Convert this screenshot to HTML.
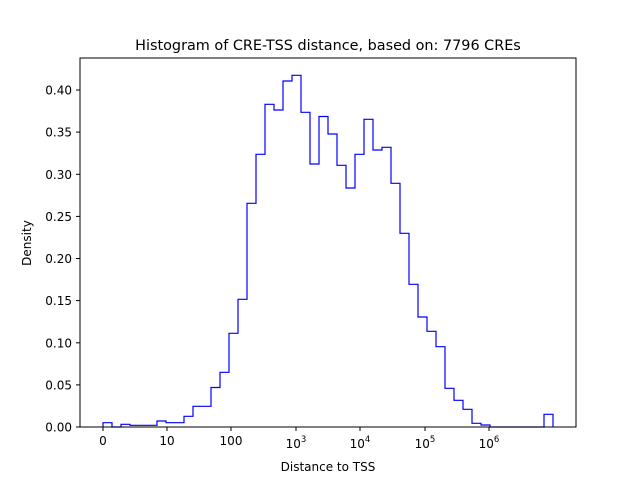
<!DOCTYPE html>
<html><head><meta charset="utf-8"><style>body{margin:0;background:#fff}svg{display:block}text{font-family:"DejaVu Sans","Liberation Sans",sans-serif;fill:#000}</style></head>
<body>
<svg width="640" height="480" viewBox="0 0 640 480" xmlns="http://www.w3.org/2000/svg">
<rect width="640" height="480" fill="#fff"/>
<path fill="none" stroke="#0000ff" stroke-width="1.2" d="M103,427 V422.7 H112 V427 H121 V424.3 H130 V425.3 H157 V421 H166 V422.7 H184 V416.3 H193 V406.3 H211 V387.5 H220 V372.3 H229 V333.3 H238 V299.3 H247 V203.3 H256 V154.3 H265 V104.3 H274 V110 H283 V81 H292 V75.3 H301 V112.3 H310 V164 H319 V116.5 H328 V134 H337 V165.3 H346 V188 H355 V154.3 H364 V119.3 H373 V150 H382 V147.3 H391 V183.3 H400 V233.3 H409 V284.3 H418 V317 H427 V331.3 H436 V346.7 H445 V388.3 H454 V400.3 H463 V409.3 H472 V423.3 H481 V425 H490 V427 H544 V414.3 H553 V427"/>
<rect x="80" y="58" width="496" height="369" fill="none" stroke="#000" stroke-width="1"/>
<g stroke="#000" stroke-width="1">
<line x1="103" y1="427" x2="103" y2="431"/><line x1="167" y1="427" x2="167" y2="431"/><line x1="231" y1="427" x2="231" y2="431"/><line x1="296" y1="427" x2="296" y2="431"/><line x1="360" y1="427" x2="360" y2="431"/><line x1="425" y1="427" x2="425" y2="431"/><line x1="489" y1="427" x2="489" y2="431"/>
<line x1="76" y1="427" x2="80" y2="427"/><line x1="76" y1="384.9" x2="80" y2="384.9"/><line x1="76" y1="342.8" x2="80" y2="342.8"/><line x1="76" y1="300.6" x2="80" y2="300.6"/><line x1="76" y1="258.5" x2="80" y2="258.5"/><line x1="76" y1="216.4" x2="80" y2="216.4"/><line x1="76" y1="174.3" x2="80" y2="174.3"/><line x1="76" y1="132.1" x2="80" y2="132.1"/><line x1="76" y1="90" x2="80" y2="90"/>
</g>
<g font-size="12" text-anchor="end">
<text x="72" y="431.5">0.00</text><text x="72" y="389.4">0.05</text><text x="72" y="347.3">0.10</text><text x="72" y="305.1">0.15</text><text x="72" y="263">0.20</text><text x="72" y="220.9">0.25</text><text x="72" y="178.8">0.30</text><text x="72" y="136.6">0.35</text><text x="72" y="94.5">0.40</text>
</g>
<g font-size="12" text-anchor="middle">
<text x="103" y="445">0</text>
<text x="167" y="445">10</text>
<text x="231" y="445">100</text>
<text x="296" y="448">10<tspan font-size="8.5" dy="-6">3</tspan></text>
<text x="360" y="448">10<tspan font-size="8.5" dy="-6">4</tspan></text>
<text x="425" y="448">10<tspan font-size="8.5" dy="-6">5</tspan></text>
<text x="489" y="448">10<tspan font-size="8.5" dy="-6">6</tspan></text>
<text x="328" y="471">Distance to TSS</text>
<text x="328" y="50" font-size="14.4">Histogram of CRE-TSS distance, based on: 7796 CREs</text>
<text transform="translate(31,243) rotate(-90)">Density</text>
</g>
</svg>
</body></html>
